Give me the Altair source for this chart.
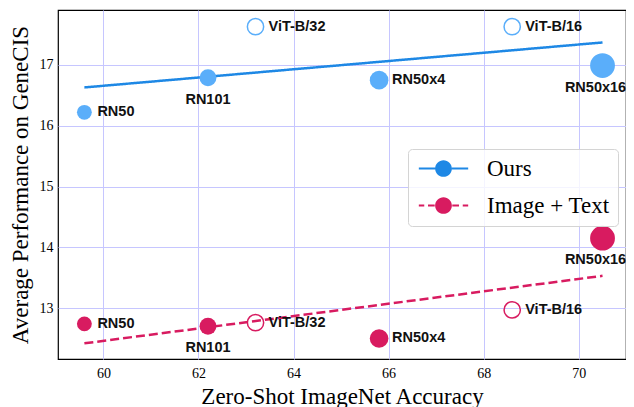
import altair as alt
import pandas as pd

# ---- data ----
models = ["RN50", "RN101", "ViT-B/32", "RN50x4", "ViT-B/16", "RN50x16"]
imagenet_acc = [59.6, 62.2, 63.2, 65.8, 68.6, 70.5]
ours = [16.22, 16.79, 17.63, 16.75, 17.63, 16.99]
image_text = [12.74, 12.70, 12.76, 12.50, 12.97, 14.15]

fit_x = [59.6, 70.5]
ours_fit = [16.63, 17.37]
image_text_fit = [12.42, 13.53]

series_names = ["Ours", "Image + Text"]
x_ticks = [60, 62, 64, 66, 68, 70]
y_ticks = [13, 14, 15, 16, 17]

# ---- styling ----
marker_area = {"RN50": 220, "RN101": 285, "ViT-B/32": 265, "RN50x4": 346,
               "ViT-B/16": 265, "RN50x16": 616}
hollow = {"ViT-B/32", "ViT-B/16"}
label_place = {"RN50": "right", "RN101": "below", "ViT-B/32": "right",
               "RN50x4": "right", "ViT-B/16": "right", "RN50x16": "below_left"}
point_colors = ["#5aaefa", "#d81b60"]
line_colors = ["#1e88e5", "#d81b60"]

circle = "M-1,0A1,1 0 1,1 1,0A1,1 0 1,1 -1,0Z"
def seg(a, b, h=0.13):
    return f"M{a},{-h}H{b}V{h}H{a}Z"
solid_sym = " ".join([circle, seg(-2.95, -1.0), seg(1.0, 2.95)])
dash_sym = " ".join([circle, seg(-2.95, -2.3), seg(-1.85, -1.05),
                     seg(1.05, 1.85), seg(2.3, 2.95)])

rows = []
for s, vals in zip(series_names, [ours, image_text]):
    for m, xv, yv in zip(models, imagenet_acc, vals):
        rows.append({"series": s, "model": m, "acc": xv, "score": yv,
                     "area": marker_area[m], "hollow": m in hollow,
                     "place": label_place[m]})
pts = pd.DataFrame(rows)

fit_rows = []
for s, vals in zip(series_names, [ours_fit, image_text_fit]):
    for xv, yv in zip(fit_x, vals):
        fit_rows.append({"series": s, "acc": xv, "score": yv})
fits = pd.DataFrame(fit_rows)

xscale = alt.Scale(domain=[59.045, 70.994], nice=False, zero=False)
yscale = alt.Scale(domain=[12.162, 17.904], nice=False, zero=False)

X = alt.X("acc:Q", scale=xscale,
          axis=alt.Axis(values=x_ticks, title="Zero-Shot ImageNet Accuracy"))
Y = alt.Y("score:Q", scale=yscale,
          axis=alt.Axis(values=y_ticks, title="Average Performance on GeneCIS"))

lines = alt.Chart(fits).mark_line(strokeWidth=2.5).encode(
    x=X, y=Y,
    color=alt.Color("series:N",
                    scale=alt.Scale(domain=series_names, range=line_colors),
                    legend=None),
    strokeDash=alt.StrokeDash("series:N",
                              scale=alt.Scale(domain=series_names,
                                              range=[[1, 0], [9, 4]]),
                              legend=None),
)

filled = alt.Chart(pts).transform_filter("!datum.hollow").mark_point(
    filled=True, shape="circle", opacity=1).encode(
    x=X, y=Y,
    color=alt.Color("series:N", scale=alt.Scale(domain=series_names,
                                                range=point_colors), legend=None),
    size=alt.Size("area:Q", scale=None, legend=None),
)

opened = alt.Chart(pts).transform_filter("datum.hollow").mark_point(
    filled=False, shape="circle", opacity=1, strokeWidth=1.5).encode(
    x=X, y=Y,
    color=alt.Color("series:N", scale=alt.Scale(domain=series_names,
                                                range=point_colors), legend=None),
    size=alt.Size("area:Q", scale=None, legend=None),
)

leg_kw = dict(title=None, orient="none", legendX=350, legendY=139,
              symbolSize=280, symbolOffset=16,
              labelFont="Liberation Serif", labelFontSize=23,
              labelColor="black", labelOffset=32, rowPadding=13,
              padding=8, fillColor="rgba(255,255,255,0.8)",
              strokeColor="#d4d4d4", cornerRadius=4, labelLimit=300)
legend_layer = alt.Chart(fits).transform_filter("false").mark_point(
    filled=True, opacity=1).encode(
    x=X, y=Y,
    color=alt.Color("series:N", scale=alt.Scale(domain=series_names,
                                                range=line_colors),
                    legend=alt.Legend(**leg_kw)),
    shape=alt.Shape("series:N", scale=alt.Scale(domain=series_names,
                                                range=[solid_sym, dash_sym]),
                    legend=alt.Legend(**leg_kw)),
)

txt_kw = dict(font="Liberation Sans", fontWeight="bold", fontSize=14.5,
              color="#111111", baseline="middle")
lab_right = alt.Chart(pts).transform_filter("datum.place == 'right'").mark_text(
    align="left", dx=13, **txt_kw).encode(x=X, y=Y, text="model:N")
lab_below = alt.Chart(pts).transform_filter("datum.place == 'below'").mark_text(
    align="center", dy=22, **txt_kw).encode(x=X, y=Y, text="model:N")
lab_below_left = alt.Chart(pts).transform_filter(
    "datum.place == 'below_left'").mark_text(
    align="center", dy=22, dx=-7, **txt_kw).encode(x=X, y=Y, text="model:N")

chart = alt.layer(lines, filled, opened, lab_right, lab_below, lab_below_left,
                  legend_layer).resolve_scale(
    color="independent", shape="independent", size="independent"
).properties(
    width=568, height=349,
    autosize=alt.AutoSizeParams(type="none"),
    padding={"left": 50, "top": 2, "right": 0, "bottom": 48},
).configure_view(
    stroke="black", strokeWidth=1.2
).configure_axis(
    domain=False, ticks=False, grid=True, gridColor="#c6c6ff", gridWidth=1,
    labelFont="Liberation Serif", labelFontSize=14, labelColor="black",
    labelPadding=5, titleFont="Liberation Serif", titleFontSize=23,
    titleFontWeight="normal", titleColor="black"
).configure_axisX(labelPadding=7, titlePadding=5).configure_axisY(titlePadding=7)

chart.save("out.html", embed_options={"renderer": "svg", "actions": False})
